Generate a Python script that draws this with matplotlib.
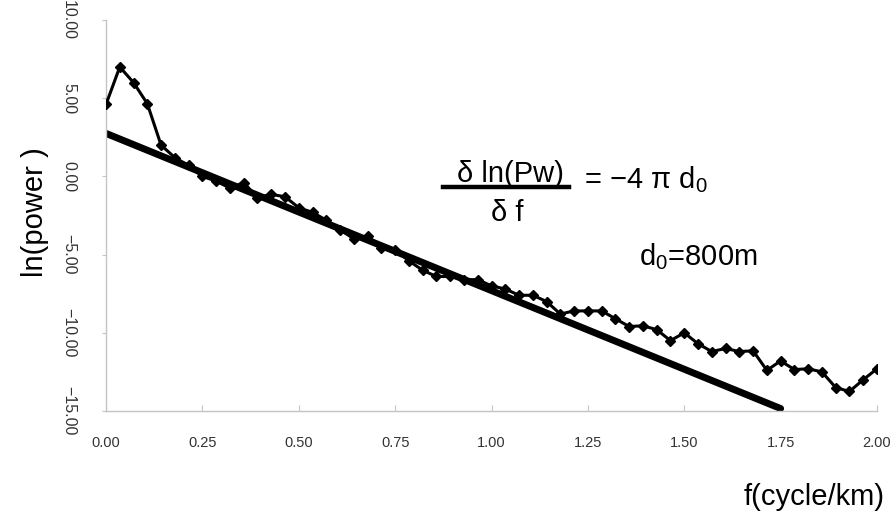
import numpy as np
import matplotlib
matplotlib.use("Agg")
import matplotlib.pyplot as plt
from matplotlib.lines import Line2D

plt.rcParams['font.family'] = ['Liberation Sans Narrow', 'Liberation Sans', 'DejaVu Sans']
plt.rcParams['mathtext.fontset'] = 'custom'
plt.rcParams['mathtext.rm'] = 'Liberation Sans'
plt.rcParams['mathtext.it'] = 'Liberation Sans'
plt.rcParams['axes.unicode_minus'] = True

# Power spectrum: frequency step of 1/28 cycle/km
freq_step = 1.0 / 28.0
ln_power = [
    4.6, 7.0, 6.0, 4.65, 2.0, 1.2, 0.7, 0.0, -0.3, -0.75,
    -0.4, -1.35, -1.15, -1.3, -2.0, -2.3, -2.8, -3.4, -4.0, -3.8,
    -4.6, -4.7, -5.4, -6.0, -6.4, -6.4, -6.6, -6.6, -7.0, -7.2,
    -7.6, -7.6, -8.0, -8.8, -8.6, -8.6, -8.6, -9.1, -9.6, -9.55,
    -9.8, -10.5, -10.0, -10.7, -11.2, -11.0, -11.2, -11.15, -12.4, -11.8,
    -12.35, -12.3, -12.5, -13.5, -13.75, -13.0, -12.3,
]
freq = [i * freq_step for i in range(len(ln_power))]

# Linear fit: slope = -4*pi*d0, d0 in km
d0_km = 0.8
fit_intercept = 2.75
fit_range = [0.0, 1.75]
fit_values = [fit_intercept - 4 * np.pi * d0_km * f for f in fit_range]

x_ticks = [0.0, 0.25, 0.5, 0.75, 1.0, 1.25, 1.5, 1.75, 2.0]
y_ticks = [-15, -10, -5, 0, 5, 10]

W, H = 892, 513
fig = plt.figure(figsize=(W / 100, H / 100), dpi=100)
ax = fig.add_axes([106 / W, 1 - 411 / H, (877 - 106) / W, (411 - 20) / H])

ax.plot(fit_range, fit_values, color='black', lw=5, solid_capstyle='round', zorder=2)
ax.plot(freq, ln_power, color='black', lw=2.2, marker='D', ms=5.5, zorder=3)

ax.set_xlim(0, 2.0)
ax.set_ylim(-15, 10)
ax.set_xticks(x_ticks)
ax.set_xticklabels([f"{v:.2f}" for v in x_ticks])
ax.set_yticks(y_ticks)
ax.set_yticklabels([f"{v:.2f}".replace('-', '\u2212') for v in y_ticks],
                   rotation=-90, va='center', ha='center')

for side in ('top', 'right'):
    ax.spines[side].set_visible(False)
for side in ('left', 'bottom'):
    ax.spines[side].set_color('#c4c4c4')
    ax.spines[side].set_linewidth(1.0)

ax.tick_params(axis='x', direction='in', length=4, color='#c4c4c4', pad=18,
               labelsize=10.5, labelcolor='#333333')
ax.tick_params(axis='y', direction='out', length=3, color='#c4c4c4', pad=24,
               labelsize=11.5, labelcolor='#333333')

# Axis titles
fig.text(35 / W, 1 - 212 / H, 'ln(power )', rotation=90, ha='center', va='center',
         fontsize=21, family=['Liberation Sans', 'DejaVu Sans'])
fig.text(885 / W, 1 - 497 / H, 'f(cycle/km)', ha='right', va='center',
         fontsize=21, family=['Liberation Sans', 'DejaVu Sans'])

# Equation annotation
eq_font = dict(fontsize=21, family=['Liberation Sans', 'DejaVu Sans'])
fig.text(510 / W, 1 - 174 / H, '\u03b4 ln(Pw)', ha='center', va='center', **eq_font)
fig.text(507 / W, 1 - 213 / H, '\u03b4 f', ha='center', va='center', **eq_font)
fig.add_artist(Line2D([443 / W, 569 / W], [1 - 187 / H, 1 - 187 / H],
                      color='black', lw=3.2, transform=fig.transFigure))
fig.text(584 / W, 1 - 180 / H, '= \u22124 \u03c0 d$_0$', ha='left', va='center', **eq_font)
fig.text(639 / W, 1 - 257 / H, 'd$_0$=800m', ha='left', va='center', **eq_font)

fig.savefig('out.png', dpi=100, facecolor='white')
